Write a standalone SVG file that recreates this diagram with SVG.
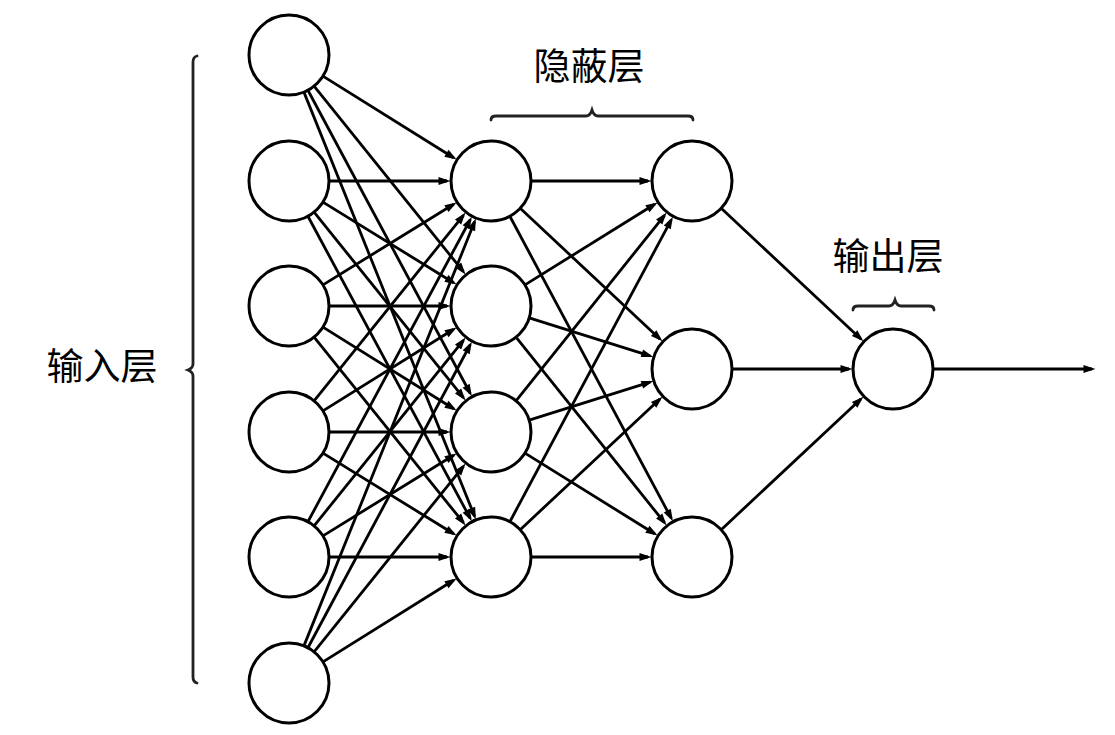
<svg xmlns="http://www.w3.org/2000/svg" width="1115" height="735" viewBox="0 0 1115 735">
<defs>
<style>
.node{fill:#fff;stroke:#000;stroke-width:3}
.edge{stroke:#000;stroke-width:2.8;fill:none;marker-end:url(#arr)}
.brace{stroke:#222;stroke-width:2.8;fill:none;stroke-linecap:round}
.lbl{font-family:"Noto Sans CJK SC","Noto Sans CJK JP",serif;font-size:37px;fill:#000;text-anchor:middle}
</style>
<marker id="arr" markerUnits="userSpaceOnUse" markerWidth="13" markerHeight="9" viewBox="0 0 13 9" refX="8.5" refY="4.5" orient="auto" overflow="visible">
<path d="M0,0.5 L12,4.5 L0,8.5 z" fill="#000"/>
</marker>
</defs>
<rect width="1115" height="735" fill="#fff"/>
<g id="connectors">
<line class="edge" x1="322.96" y1="76.12" x2="453.64" y2="157.77"/>
<line class="edge" x1="314.08" y1="86.16" x2="463.41" y2="271.72"/>
<line class="edge" x1="307.92" y1="90.24" x2="470.19" y2="393.24"/>
<line class="edge" x1="303.93" y1="92.11" x2="474.57" y2="516.18"/>
<line class="edge" x1="329" y1="181" x2="447" y2="181"/>
<line class="edge" x1="322.96" y1="202.12" x2="453.64" y2="282.77"/>
<line class="edge" x1="314.08" y1="212.16" x2="463.41" y2="397.72"/>
<line class="edge" x1="307.92" y1="216.24" x2="470.19" y2="518.24"/>
<line class="edge" x1="322.96" y1="284.88" x2="453.64" y2="204.23"/>
<line class="edge" x1="329" y1="306" x2="447" y2="306"/>
<line class="edge" x1="322.96" y1="327.12" x2="453.64" y2="408.77"/>
<line class="edge" x1="314.08" y1="337.16" x2="463.41" y2="522.72"/>
<line class="edge" x1="314.08" y1="400.84" x2="463.41" y2="215.28"/>
<line class="edge" x1="322.96" y1="410.88" x2="453.64" y2="329.23"/>
<line class="edge" x1="329" y1="432" x2="447" y2="432"/>
<line class="edge" x1="322.96" y1="453.12" x2="453.64" y2="533.77"/>
<line class="edge" x1="307.92" y1="521.76" x2="470.19" y2="219.76"/>
<line class="edge" x1="314.08" y1="525.84" x2="463.41" y2="340.28"/>
<line class="edge" x1="322.96" y1="535.88" x2="453.64" y2="455.23"/>
<line class="edge" x1="329" y1="557" x2="447" y2="557"/>
<line class="edge" x1="303.93" y1="645.89" x2="474.57" y2="221.82"/>
<line class="edge" x1="307.92" y1="647.76" x2="470.19" y2="344.76"/>
<line class="edge" x1="314.08" y1="651.84" x2="463.41" y2="466.28"/>
<line class="edge" x1="322.96" y1="661.88" x2="453.64" y2="580.23"/>
<line class="edge" x1="531" y1="181" x2="648" y2="181"/>
<line class="edge" x1="520.21" y1="208.32" x2="659.87" y2="338.94"/>
<line class="edge" x1="509.86" y1="216.28" x2="671.26" y2="518.2"/>
<line class="edge" x1="524.97" y1="284.88" x2="654.64" y2="204.24"/>
<line class="edge" x1="529.17" y1="317.96" x2="650.01" y2="355.84"/>
<line class="edge" x1="516" y1="337.22" x2="664.5" y2="522.65"/>
<line class="edge" x1="516" y1="400.78" x2="664.5" y2="215.35"/>
<line class="edge" x1="529.17" y1="420.04" x2="650.01" y2="382.16"/>
<line class="edge" x1="524.97" y1="453.12" x2="654.64" y2="533.76"/>
<line class="edge" x1="509.86" y1="521.72" x2="671.26" y2="219.8"/>
<line class="edge" x1="520.21" y1="529.68" x2="659.87" y2="399.06"/>
<line class="edge" x1="531" y1="557" x2="648" y2="557"/>
<line class="edge" x1="721.21" y1="208.32" x2="860.87" y2="338.94"/>
<line class="edge" x1="732" y1="369" x2="849" y2="369"/>
<line class="edge" x1="721.21" y1="529.68" x2="860.87" y2="399.06"/>
<line class="edge" x1="933" y1="369" x2="1092" y2="369"/>
</g>
<g id="input-layer">
<g id="in1"><circle class="node" cx="289" cy="55" r="40"/></g>
<g id="in2"><circle class="node" cx="289" cy="181" r="40"/></g>
<g id="in3"><circle class="node" cx="289" cy="306" r="40"/></g>
<g id="in4"><circle class="node" cx="289" cy="432" r="40"/></g>
<g id="in5"><circle class="node" cx="289" cy="557" r="40"/></g>
<g id="in6"><circle class="node" cx="289" cy="683" r="40"/></g>
</g>
<g id="hidden-layer-1">
<g id="h1a"><circle class="node" cx="491" cy="181" r="40"/></g>
<g id="h1b"><circle class="node" cx="491" cy="306" r="40"/></g>
<g id="h1c"><circle class="node" cx="491" cy="432" r="40"/></g>
<g id="h1d"><circle class="node" cx="491" cy="557" r="40"/></g>
</g>
<g id="hidden-layer-2">
<g id="h2a"><circle class="node" cx="692" cy="181" r="40"/></g>
<g id="h2b"><circle class="node" cx="692" cy="369" r="40"/></g>
<g id="h2c"><circle class="node" cx="692" cy="557" r="40"/></g>
</g>
<g id="output-layer">
<g id="out1"><circle class="node" cx="893" cy="369" r="40"/></g>
</g>
<g id="labels">
<path class="brace" d="M197,56 Q193,57 193,62 L193,364 Q193,368 188,370 Q193,372 193,376 L193,677 Q193,682 197,683"/>
<text class="lbl" x="102" y="380">输入层</text>
<path class="brace" d="M491,120 Q491,116 496,116 L586,116 Q590,116 592,110 Q594,116 598,116 L688,116 Q693,116 693,120"/>
<text class="lbl" x="589" y="80">隐蔽层</text>
<path class="brace" d="M853,310 Q853,306 858,306 L889,306 Q893,306 895,300 Q897,306 901,306 L929,306 Q934,306 934,310"/>
<text class="lbl" x="888" y="270">输出层</text>
</g>
</svg>
